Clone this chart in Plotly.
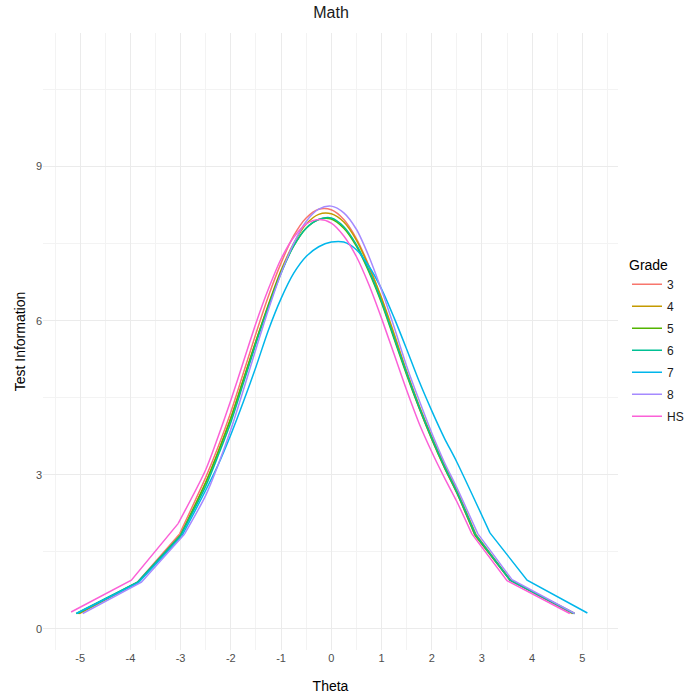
import plotly.graph_objects as go

grades = ["3", "4", "5", "6", "7", "8", "HS"]
colors = ["#F8766D", "#C49A00", "#53B400", "#00C094", "#00B6EB", "#A58AFF", "#FB61D7"]

mid_theta = [-2.5, -2.25, -2.0, -1.75, -1.5, -1.25, -1.0, -0.75, -0.5, -0.25, 0.0,
             0.25, 0.5, 0.75, 1.0, 1.25, 1.5, 1.75, 2.0, 2.25, 2.5]

# tail points (theta, info)
left_theta = {
    "3": [-5.02, -3.86, -3.02], "4": [-5.02, -3.85, -3.0], "5": [-5.05, -3.85, -3.0],
    "6": [-5.08, -3.86, -3.0], "7": [-5.07, -3.84, -2.98], "8": [-4.95, -3.78, -2.92],
    "HS": [-5.18, -3.98, -3.05],
}
left_info = {
    "3": [0.30, 0.91, 1.85], "4": [0.30, 0.90, 1.82], "5": [0.30, 0.91, 1.83],
    "6": [0.30, 0.91, 1.82], "7": [0.30, 0.90, 1.80], "8": [0.30, 0.91, 1.85],
    "HS": [0.33, 0.95, 2.05],
}
right_theta = {
    "3": [2.86, 3.56, 4.80], "4": [2.88, 3.57, 4.82], "5": [2.86, 3.56, 4.85],
    "6": [2.87, 3.56, 4.83], "7": [3.16, 3.90, 5.10], "8": [2.92, 3.60, 4.85],
    "HS": [2.80, 3.50, 4.75],
}
right_info = {
    "3": [1.83, 0.95, 0.30], "4": [1.84, 0.95, 0.30], "5": [1.83, 0.95, 0.30],
    "6": [1.84, 0.95, 0.30], "7": [1.87, 0.95, 0.31], "8": [1.85, 0.96, 0.30],
    "HS": [1.85, 0.94, 0.30],
}
mid_info = {
    "3": [2.95, 3.55, 4.22, 4.98, 5.75, 6.48, 7.12, 7.65, 8.00, 8.17, 8.16,
          7.97, 7.60, 7.07, 6.42, 5.70, 4.98, 4.30, 3.70, 3.15, 2.65],
    "4": [2.85, 3.45, 4.10, 4.85, 5.60, 6.32, 6.98, 7.50, 7.88, 8.07, 8.08,
          7.92, 7.57, 7.05, 6.45, 5.75, 5.02, 4.35, 3.75, 3.20, 2.70],
    "5": [2.85, 3.45, 4.10, 4.85, 5.60, 6.30, 6.95, 7.45, 7.80, 7.97, 7.98,
          7.80, 7.45, 6.95, 6.35, 5.65, 4.95, 4.30, 3.70, 3.15, 2.65],
    "6": [2.78, 3.38, 4.02, 4.78, 5.55, 6.27, 6.92, 7.45, 7.80, 7.97, 8.00,
          7.83, 7.48, 6.98, 6.38, 5.68, 4.98, 4.32, 3.72, 3.17, 2.67],
    "7": [2.70, 3.20, 3.78, 4.42, 5.10, 5.82, 6.43, 6.92, 7.25, 7.44, 7.53,
          7.53, 7.38, 7.06, 6.62, 6.06, 5.45, 4.82, 4.25, 3.72, 3.25],
    "8": [2.60, 3.20, 3.88, 4.65, 5.45, 6.22, 6.92, 7.50, 7.93, 8.17, 8.23,
          8.10, 7.78, 7.25, 6.60, 5.88, 5.12, 4.45, 3.82, 3.25, 2.75],
    "HS": [3.10, 3.75, 4.45, 5.20, 5.95, 6.62, 7.20, 7.62, 7.88, 7.97, 7.90,
           7.65, 7.25, 6.70, 6.05, 5.35, 4.65, 4.00, 3.45, 2.95, 2.48],
}

x_ticks = [-5, -4, -3, -2, -1, 0, 1, 2, 3, 4, 5]
y_ticks = [0, 3, 6, 9]

fig = go.Figure()
for g, c in zip(grades, colors):
    # straight tail segments
    tx = left_theta[g] + [None] + right_theta[g]
    ty = left_info[g] + [None] + right_info[g]
    fig.add_trace(go.Scatter(x=tx, y=ty, mode="lines", name=g, legendgroup=g,
                             showlegend=False, hoverinfo="skip",
                             line=dict(color=c, width=1.5)))
    # smooth central part
    mx = [left_theta[g][-1]] + mid_theta + [right_theta[g][0]]
    my = [left_info[g][-1]] + mid_info[g] + [right_info[g][0]]
    fig.add_trace(go.Scatter(x=mx, y=my, mode="lines", name=g, legendgroup=g,
                             line=dict(color=c, width=1.5, shape="spline", smoothing=0.8)))

# plot panel spans x 43..618 px, legend sits in the remaining paper area
ML, MR = 43, 0
paper_w = 689 - ML - MR
dom_end = (618 - ML) / paper_w

grid = "#EBEBEB"
fig.update_layout(
    width=689, height=698,
    margin=dict(l=ML, r=MR, t=33, b=48),
    paper_bgcolor="white", plot_bgcolor="white",
    font=dict(family="Liberation Sans, Arial, sans-serif", color="#000000"),
    title=dict(text="Math", x=(331 - ML) / paper_w, xanchor="center", xref="paper",
               y=0.982, yanchor="middle", font=dict(size=16, color="#1a1a1a")),
    xaxis=dict(domain=[0, dom_end], range=[-5.74, 5.71], tickvals=x_ticks,
               ticktext=[str(v) for v in x_ticks],
               showgrid=True, gridcolor=grid, gridwidth=1, zeroline=False, showline=False,
               ticks="", tickfont=dict(size=11, color="#4D4D4D"), automargin=False,
               minor=dict(tickvals=[v + 0.5 for v in range(-6, 6)], showgrid=True,
                          gridcolor="#F3F3F3", gridwidth=1),
               title=dict(text="Theta", font=dict(size=14, color="#000000"), standoff=18)),
    yaxis=dict(range=[-0.41, 11.6], tickvals=y_ticks, ticktext=[str(v) for v in y_ticks],
               showgrid=True, gridcolor=grid, gridwidth=1, zeroline=False, showline=False,
               ticks="", tickfont=dict(size=11, color="#4D4D4D"), automargin=False,
               minor=dict(tickvals=[1.5, 4.5, 7.5, 10.5], showgrid=True,
                          gridcolor="#F3F3F3", gridwidth=1),
               title=dict(text="Test Information", font=dict(size=14, color="#000000"), standoff=6)),
    legend=dict(title=dict(text="Grade", font=dict(size=14, color="#000000")),
                x=1.0, xanchor="right", y=0.5, yanchor="middle",
                font=dict(size=12, color="#1a1a1a"), itemwidth=30, tracegroupgap=3,
                bgcolor="rgba(0,0,0,0)"),
    showlegend=True,
)

fig.write_html("out.html")
